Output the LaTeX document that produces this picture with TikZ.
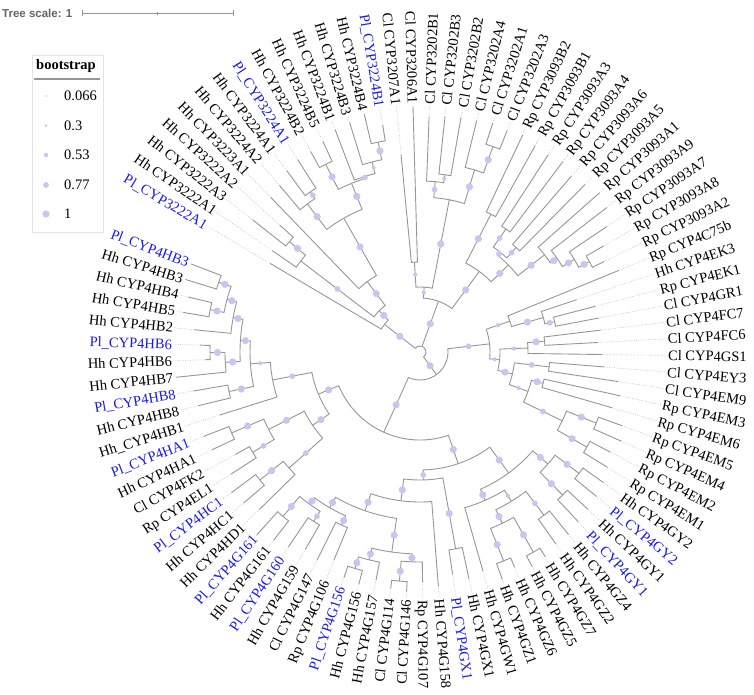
\documentclass[tikz,border=0pt]{standalone}
\usepackage{fontspec}
\setmainfont{Liberation Serif}
\newfontfamily\scalefnt{Liberation Sans}
\definecolor{plblue}{RGB}{25,25,235}
\definecolor{brc}{RGB}{150,150,150}
\definecolor{bubc}{RGB}{198,198,242}
\definecolor{ldc}{RGB}{195,195,195}
\definecolor{scc}{RGB}{100,100,100}
\tikzset{
  branch/.style={draw=brc, line width=0.9pt},
  leader/.style={draw=ldc, line width=0.7pt, dash pattern=on 0.8pt off 1.6pt},
  lab/.style={font=\fontsize{14.5}{17}\selectfont, inner sep=1pt, text height=10pt, text depth=0pt},
  bubble/.style={fill=bubc},
  legtxt/.style={font=\fontsize{14.5}{17}\selectfont, inner sep=0pt, anchor=west},
}
% leaf: name, index, tip radius, text, colour
\newcommand\Lf[5]{%
  \pgfmathsetmacro\tA{149.4-3.851*(#2-1)}%
  \expandafter\xdef\csname ang@#1\endcsname{\tA}%
  \expandafter\xdef\csname rad@#1\endcsname{#3}%
  \expandafter\xdef\csname bub@#1\endcsname{0}%
  \coordinate (#1) at (\tA:#3);
  \coordinate (#1e) at (\tA:247);
  \draw[leader] (#1) -- (#1e);
  \ifdim\tA pt>-90pt
    \ifdim\tA pt<90pt
      \node[lab,text=#5,rotate=\tA,anchor=west] (#1t) at (#1e) {#4};
    \else
      \pgfmathsetmacro\tF{\tA+180}%
      \node[lab,text=#5,rotate=\tF,anchor=east] (#1t) at (#1e) {#4};
    \fi
  \else
    \pgfmathsetmacro\tF{\tA+180}%
    \node[lab,text=#5,rotate=\tF,anchor=east] (#1t) at (#1e) {#4};
  \fi
}
\newcommand\Bub[2]{%
  \edef\tmpb{\csname bub@#1\endcsname}%
  \ifdim\tmpb pt>0pt
    \edef\tAng{\csname ang@#1\endcsname}%
    \pgfmathsetmacro\tR{(#2+\csname rad@#1\endcsname)/2}%
    \fill[bubble] (\tAng:\tR) circle[radius=\tmpb];
  \fi}
% internal node: name, radius, child1, child2, bubble radius
\newcommand\Nd[5]{%
  \pgfmathsetmacro\tA{\csname ang@#3\endcsname}%
  \pgfmathsetmacro\tB{\csname ang@#4\endcsname}%
  \pgfmathsetmacro\tM{(\tA+\tB)/2}%
  \expandafter\xdef\csname ang@#1\endcsname{\tM}%
  \expandafter\xdef\csname rad@#1\endcsname{#2}%
  \expandafter\xdef\csname bub@#1\endcsname{#5}%
  \coordinate (#1) at (\tM:#2);
  \draw[branch] (#3) -- (\tA:#2) arc[start angle=\tA, end angle=\tB, radius=#2] -- (#4);
  \Bub{#3}{#2}\Bub{#4}{#2}%
}
\begin{document}
\begin{tikzpicture}[x=1pt,y=1pt]
\useasboundingbox (-420,-342) rectangle (334,352);
% ---------------- leaves
\Lf{L1}{1}{174}{Pl\_CYP3222A1}{plblue}
\Lf{L2}{2}{179}{Hh CYP3222A1}{black}
\Lf{L3}{3}{213}{Hh CYP3222A3}{black}
\Lf{L4}{4}{189}{Hh CYP3222A2}{black}
\Lf{L5}{5}{215}{Hh CYP3223A1}{black}
\Lf{L6}{6}{218}{Hh CYP3224A2}{black}
\Lf{L7}{7}{225}{Hh CYP3224A1}{black}
\Lf{L8}{8}{228}{Pl\_CYP3224A1}{plblue}
\Lf{L9}{9}{228}{Hh CYP3224B2}{black}
\Lf{L10}{10}{232}{Hh CYP3224B5}{black}
\Lf{L11}{11}{238}{Hh CYP3224B1}{black}
\Lf{L12}{12}{240}{Hh CYP3224B3}{black}
\Lf{L13}{13}{244}{Hh CYP3224B4}{black}
\Lf{L14}{14}{230}{Pl\_CYP3224B1}{plblue}
\Lf{L15}{15}{198}{Cl CYP3207A1}{black}
\Lf{L16}{16}{245}{Cl CYP3206A1}{black}
\Lf{L17}{17}{235}{Cl CYP3202B1}{black}
\Lf{L18}{18}{237}{Cl CYP3202B3}{black}
\Lf{L19}{19}{238}{Cl CYP3202B2}{black}
\Lf{L20}{20}{238}{Cl CYP3202A4}{black}
\Lf{L21}{21}{240}{Cl CYP3202A1}{black}
\Lf{L22}{22}{238}{Cl CYP3202A3}{black}
\Lf{L23}{23}{240}{Rp CYP3093B2}{black}
\Lf{L24}{24}{236}{Rp CYP3093B1}{black}
\Lf{L25}{25}{235}{Rp CYP3093A3}{black}
\Lf{L26}{26}{238}{Rp CYP3093A4}{black}
\Lf{L27}{27}{232}{Rp CYP3093A6}{black}
\Lf{L28}{28}{235}{Rp CYP3093A5}{black}
\Lf{L29}{29}{240}{Rp CYP3093A1}{black}
\Lf{L30}{30}{236}{Rp CYP3093A9}{black}
\Lf{L31}{31}{225}{Rp CYP3093A7}{black}
\Lf{L32}{32}{212}{Rp CYP3093A8}{black}
\Lf{L33}{33}{205}{Rp CYP3093A2}{black}
\Lf{L34}{34}{215}{Rp CYP4C75b}{black}
\Lf{L35}{35}{165}{Hh CYP4EK3}{black}
\Lf{L36}{36}{181}{Rp CYP4EK1}{black}
\Lf{L37}{37}{182}{Cl CYP4GR1}{black}
\Lf{L38}{38}{182}{Cl CYP4FC7}{black}
\Lf{L39}{39}{178}{Cl CYP4FC6}{black}
\Lf{L40}{40}{182}{Cl CYP4GS1}{black}
\Lf{L41}{41}{185}{Cl CYP4EY3}{black}
\Lf{L42}{42}{200}{Cl CYP4EM9}{black}
\Lf{L43}{43}{205}{Rp CYP4EM3}{black}
\Lf{L44}{44}{200}{Rp CYP4EM6}{black}
\Lf{L45}{45}{215}{Rp CYP4EM5}{black}
\Lf{L46}{46}{220}{Rp CYP4EM4}{black}
\Lf{L47}{47}{215}{Rp CYP4EM2}{black}
\Lf{L48}{48}{220}{Rp CYP4EM1}{black}
\Lf{L49}{49}{225}{Hh CYP4GY2}{black}
\Lf{L50}{50}{228}{Pl\_CYP4GY2}{plblue}
\Lf{L51}{51}{230}{Hh CYP4GY1}{black}
\Lf{L52}{52}{232}{Pl\_CYP4GY1}{plblue}
\Lf{L53}{53}{235}{Hh CYP4GZ4}{black}
\Lf{L54}{54}{235}{Hh CYP4GZ2}{black}
\Lf{L55}{55}{240}{Hh CYP4GZ7}{black}
\Lf{L56}{56}{242}{Hh CYP4GZ5}{black}
\Lf{L57}{57}{235}{Hh CYP4GZ6}{black}
\Lf{L58}{58}{242}{Hh CYP4GZ1}{black}
\Lf{L59}{59}{228}{Hh CYP4GW1}{black}
\Lf{L60}{60}{232}{Hh CYP4GX1}{black}
\Lf{L61}{61}{225}{Pl\_CYP4GX1}{plblue}
\Lf{L62}{62}{235}{Hh CYP4G158}{black}
\Lf{L63}{63}{230}{Rp CYP4G107}{black}
\Lf{L64}{64}{240}{Cl CYP4G146}{black}
\Lf{L65}{65}{238}{Cl CYP4G114}{black}
\Lf{L66}{66}{232}{Hh CYP4G157}{black}
\Lf{L67}{67}{240}{Hh CYP4G156}{black}
\Lf{L68}{68}{238}{Pl\_CYP4G156}{plblue}
\Lf{L69}{69}{225}{Rp CYP4G106}{black}
\Lf{L70}{70}{232}{Cl CYP4G147}{black}
\Lf{L71}{71}{228}{Hh CYP4G159}{black}
\Lf{L72}{72}{235}{Pl\_CYP4G160}{plblue}
\Lf{L73}{73}{238}{Hh CYP4G161}{black}
\Lf{L74}{74}{245}{Pl\_CYP4G161}{plblue}
\Lf{L75}{75}{225}{Hh CYP4HD1}{black}
\Lf{L76}{76}{232}{Hh CYP4HC1}{black}
\Lf{L77}{77}{235}{Pl\_CYP4HC1}{plblue}
\Lf{L78}{78}{225}{Rp CYP4EL1}{black}
\Lf{L79}{79}{211}{Cl CYP4FK2}{black}
\Lf{L80}{80}{230}{Hh CYP4HA1}{black}
\Lf{L81}{81}{232}{Pl\_CYP4HA1}{plblue}
\Lf{L82}{82}{210}{Hh\_CYP4HB1}{black}
\Lf{L83}{83}{228}{Hh CYP4HB8}{black}
\Lf{L84}{84}{230}{Pl\_CYP4HB8}{plblue}
\Lf{L85}{85}{245}{Hh CYP4HB7}{black}
\Lf{L86}{86}{215}{Hh CYP4HB6}{black}
\Lf{L87}{87}{220}{Pl\_CYP4HB6}{plblue}
\Lf{L88}{88}{227}{Hh CYP4HB2}{black}
\Lf{L89}{89}{240}{Hh CYP4HB5}{black}
\Lf{L90}{90}{238}{Hh CYP4HB4}{black}
\Lf{L91}{91}{245}{Hh CYP4HB3}{black}
\Lf{L92}{92}{245}{Pl\_CYP4HB3}{plblue}
% ---------------- group CYP3222-3224
\Nd{nA34}{171}{L3}{L4}{3.6}
\Nd{nA2}{150}{L2}{nA34}{2.9}
\Nd{S1}{210}{L9}{L10}{3.6}
\Nd{S4}{214}{L13}{L14}{3.6}
\Nd{S3}{196}{L12}{S4}{2.1}
\Nd{S2}{184}{L11}{S3}{2.9}
\Nd{R2}{182}{S1}{S2}{3.6}
\Nd{n78}{194}{L7}{L8}{2.9}
\Nd{R1}{186}{L6}{n78}{3.6}
\Nd{R}{154}{R1}{R2}{3.6}
\Nd{Q}{88}{L5}{R}{3.6}
\Nd{P1}{58}{nA2}{Q}{3.6}
\Nd{P0}{45}{L1}{P1}{3.6}
% ---------------- group CYP3207/3206/3202/3093
\Nd{X}{90}{L15}{L16}{2.1}
\Nd{n1819}{179}{L18}{L19}{2.1}
\Nd{W1}{171}{L17}{n1819}{2.9}
\Nd{W3}{218}{L21}{L22}{3.6}
\Nd{W2}{190}{L20}{W3}{3.6}
\Nd{W}{155}{W1}{W2}{3.6}
\Nd{Y}{65}{X}{W}{2.1}
\Nd{V1}{155}{L23}{L24}{3.6}
\Nd{n2526}{150}{L25}{L26}{2.9}
\Nd{n2728}{142}{L27}{L28}{2.9}
\Nd{V3}{128}{n2526}{n2728}{2.9}
\Nd{V7}{192}{L32}{L33}{3.6}
\Nd{V6}{180}{L31}{V7}{3.6}
\Nd{V5}{166}{L30}{V6}{3.6}
\Nd{V4}{158}{L29}{V5}{3.6}
\Nd{V2}{124}{V3}{V4}{3.6}
\Nd{V}{100}{V1}{V2}{3.6}
\Nd{Z}{54}{Y}{V}{3.6}
% ---------------- CYP4 right
\Nd{C1a3}{138}{L36}{L37}{2.9}
\Nd{C1a2}{128}{L35}{C1a3}{3.6}
\Nd{C1a}{95}{L34}{C1a2}{2.1}
\Nd{n3839}{125}{L38}{L39}{3.6}
\Nd{D1}{108}{n3839}{L40}{2.1}
\Nd{D3}{130}{L41}{L42}{2.9}
\Nd{D5}{127}{L43}{L44}{3.6}
\Nd{D7}{190}{L45}{L46}{3.6}
\Nd{D8}{192}{L47}{L48}{3.6}
\Nd{D6}{158}{D7}{D8}{2.9}
\Nd{D4}{115}{D5}{D6}{2.1}
\Nd{D2}{95}{D3}{D4}{3.6}
\Nd{C1b}{80}{D1}{D2}{2.1}
\Nd{C1}{70}{C1a}{C1b}{2.9}
% ---------------- CYP4 lower right and bottom
\Nd{n4950}{200}{L49}{L50}{3.6}
\Nd{n5152}{202}{L51}{L52}{3.6}
\Nd{E1}{170}{n4950}{n5152}{3.6}
\Nd{n5354}{205}{L53}{L54}{2.9}
\Nd{n5556}{230}{L55}{L56}{3.6}
\Nd{n5758}{225}{L57}{L58}{3.6}
\Nd{E5}{190}{n5556}{n5758}{3.6}
\Nd{E2a}{175}{n5354}{E5}{2.1}
\Nd{E2}{162}{E2a}{L59}{3.6}
\Nd{C2}{150}{E1}{E2}{3.6}
\Nd{GX}{200}{L60}{L61}{3.6}
\Nd{n6465}{230}{L64}{L65}{3.6}
\Nd{G1a}{210}{L63}{n6465}{3.6}
\Nd{n6768}{226}{L67}{L68}{3.6}
\Nd{G1b}{214}{L66}{n6768}{3.6}
\Nd{G1}{202}{G1a}{G1b}{3.6}
\Nd{n6970}{190}{L69}{L70}{3.6}
\Nd{n7172}{200}{L71}{L72}{2.9}
\Nd{n7374}{214}{L73}{L74}{3.6}
\Nd{G2b}{188}{n7172}{n7374}{3.6}
\Nd{G2}{180}{n6970}{G2b}{3.6}
\Nd{GG}{168}{G1}{G2}{3.6}
\Nd{GH}{150}{L62}{GG}{3.6}
\Nd{C3}{128}{GX}{GH}{2.9}
\Nd{C23}{118}{C2}{C3}{3.6}
% ---------------- CYP4 left
\Nd{n7677}{205}{L76}{L77}{3.6}
\Nd{C4a}{175}{L75}{n7677}{2.9}
\Nd{n7879}{195}{L78}{L79}{2.9}
\Nd{n8081}{205}{L80}{L81}{3.6}
\Nd{C4b}{170}{n7879}{n8081}{3.6}
\Nd{C4}{130}{C4a}{C4b}{3.6}
\Nd{H1}{213}{L91}{L92}{3.6}
\Nd{H2}{214}{L89}{L90}{3.6}
\Nd{H3}{200}{H1}{H2}{3.6}
\Nd{H4}{190}{L88}{H3}{3.6}
\Nd{H5}{210}{L86}{L87}{3.6}
\Nd{H6}{195}{L85}{H5}{3.6}
\Nd{H7}{180}{H6}{H4}{3.6}
\Nd{H8}{195}{L83}{L84}{3.6}
\Nd{H78}{170}{H8}{H7}{2.1}
\Nd{C5}{150}{L82}{H78}{2.9}
\Nd{C45}{110}{C4}{C5}{3.6}
\Nd{Lq}{88}{C23}{C45}{3.6}
\Nd{K}{28}{C1}{Lq}{3.6}
% ---------------- root (three children)
\pgfmathsetmacro\rA{\csname ang@P0\endcsname}
\pgfmathsetmacro\rB{\csname ang@K\endcsname}
\pgfmathsetmacro\rZ{\csname ang@Z\endcsname}
\coordinate (rootZ) at (\rZ:6);
\draw[branch] (P0) -- (\rA:6) arc[start angle=\rA, end angle=\rB, radius=6] -- (K);
\draw[branch] (rootZ) -- (Z);
\Bub{P0}{6}\Bub{Z}{6}\Bub{K}{6}
% ---------------- legend
\draw[draw={rgb,255:red,228;green,228;blue,228}, line width=0.8pt] (-388,120) rectangle (-317,297);
\node[font=\bfseries\fontsize{14.5}{17}\selectfont, inner sep=0pt] (legt) at (-354,286) {bootstrap};
\coordinate (ulA) at (-386,273);
\coordinate (ulB) at (-320,273);
\draw[draw={rgb,255:red,150;green,150;blue,150}, line width=1.4pt] (ulA) -- (ulB);
\fill[bubble] (-374,256) circle[radius=0.8];
\node[legtxt] (lg1) at (-356,256) {0.066};
\fill[bubble] (-374,226.3) circle[radius=1.5];
\node[legtxt] (lg2) at (-356,226.3) {0.3};
\fill[bubble] (-374,197) circle[radius=2.2];
\node[legtxt] (lg3) at (-356,197) {0.53};
\fill[bubble] (-374,167) circle[radius=2.9];
\node[legtxt] (lg4) at (-356,167) {0.77};
\fill[bubble] (-374,138) circle[radius=3.6];
\node[legtxt] (lg5) at (-356,138) {1};
% ---------------- tree scale
\node[font=\scalefnt\bfseries\fontsize{11.5}{13}\selectfont, text=scc, anchor=west, inner sep=0pt] (tsc) at (-418,338.7) {Tree scale: 1};
\coordinate (sbA) at (-338,338.7);
\coordinate (sbB) at (-187,338.7);
\draw[draw={rgb,255:red,150;green,150;blue,150}, line width=0.9pt] (sbA) -- (sbB);
\draw[draw={rgb,255:red,150;green,150;blue,150}, line width=0.9pt] (-338,335.5) -- (-338,342);
\draw[draw={rgb,255:red,150;green,150;blue,150}, line width=0.9pt] (-187,335.5) -- (-187,342);
\draw[draw={rgb,255:red,150;green,150;blue,150}, line width=0.6pt] (-262.5,337.2) -- (-262.5,340.2);
\end{tikzpicture}
\end{document}
